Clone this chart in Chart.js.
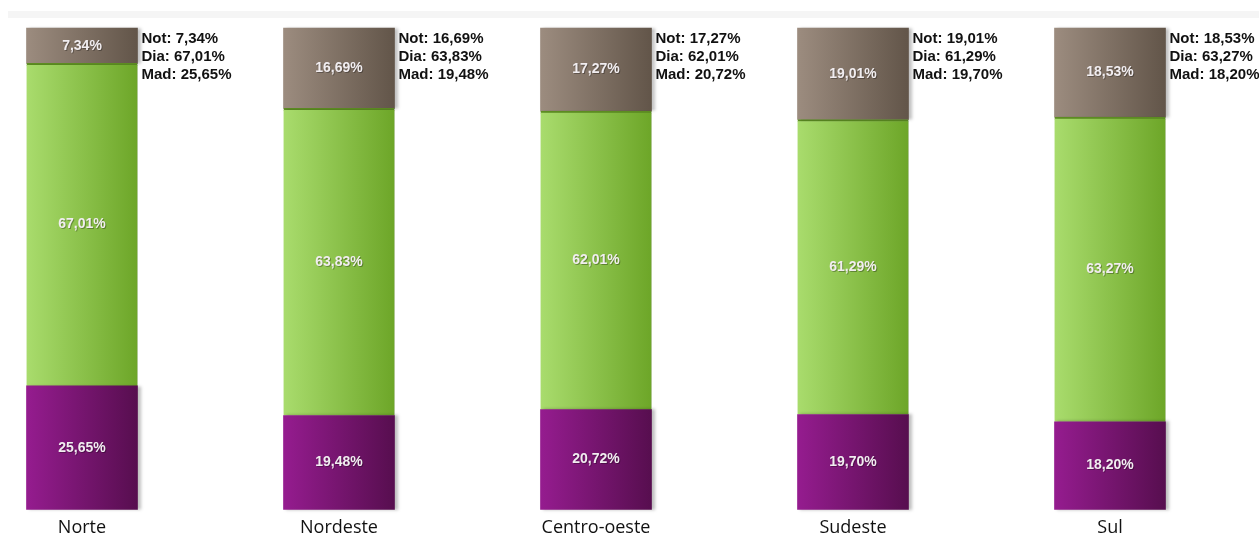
<!DOCTYPE html>
<html>
<head>
<meta charset="utf-8">
<script src="https://cdn.jsdelivr.net/npm/chart.js@4/dist/chart.umd.min.js"></script>
<style>
  html, body { margin: 0; padding: 0; background: #fff; }
  #chart { display: block; }
</style>
</head>
<body>
<canvas id="chart" width="1259" height="547"></canvas>
<script>
const regions = ["Norte", "Nordeste", "Centro-oeste", "Sudeste", "Sul"];
const madValues = [25.65, 19.48, 20.72, 19.70, 18.20];
const diaValues = [67.01, 63.83, 62.01, 61.29, 63.27];
const notValues = [7.34, 16.69, 17.27, 19.01, 18.53];

(() => {
  const BAR = 111;

  /**
   * number -> "7,34%"
   * @param {Number} v
   * @returns String
   */
  const fmt = (v) => v.toFixed(2).replace(".", ",") + "%";

  /**
   * horizontal gradient across one bar
   */
  const gradient = (left, right) => (ctx) => {
    const chart = ctx.chart;
    if (ctx.dataIndex === undefined || !chart.scales.x) return right;
    const x = chart.scales.x.getPixelForValue(ctx.dataIndex);
    if (!isFinite(x)) return right;
    const g = chart.ctx.createLinearGradient(x - BAR / 2, 0, x + BAR / 2, 0);
    g.addColorStop(0, left);
    g.addColorStop(1, right);
    return g;
  };

  const barLabels = {
    id: "barLabels",
    beforeDraw(chart) {
      const c = chart.ctx;
      c.save();
      c.fillStyle = "#f5f5f5";
      c.fillRect(8, 11, 1251, 7);
      c.restore();
    },
    beforeDatasetsDraw(chart) {
      const c = chart.ctx;
      c.save();
      c.shadowColor = "rgba(0,0,0,0.25)";
      c.shadowOffsetX = 3;
      c.shadowBlur = 3;
    },
    afterDatasetsDraw(chart) {
      const c = chart.ctx;
      c.restore();
      c.save();
      c.textAlign = "center";
      c.textBaseline = "middle";
      c.font = "bold 14px 'Liberation Sans', Arial, sans-serif";
      chart.data.datasets.forEach((ds, di) => {
        chart.getDatasetMeta(di).data.forEach((el, i) => {
          const y = (el.y + el.base) / 2;
          c.fillStyle = "rgba(0,0,0,0.3)";
          c.fillText(fmt(ds.data[i]), el.x + 1, y + 1);
          c.fillStyle = "#f1edf0";
          c.fillText(fmt(ds.data[i]), el.x, y);
        });
      });
      // side note next to the top of each bar
      const top = chart.getDatasetMeta(chart.data.datasets.length - 1).data;
      c.textAlign = "left";
      c.textBaseline = "top";
      c.font = "bold 15px 'Liberation Sans', Arial, sans-serif";
      c.fillStyle = "#111";
      top.forEach((el, i) => {
        const x = el.x + el.width / 2 + 4;
        c.fillText("Not: " + fmt(notValues[i]), x, el.y + 3);
        c.fillText("Dia: " + fmt(diaValues[i]), x, el.y + 21);
        c.fillText("Mad: " + fmt(madValues[i]), x, el.y + 39);
      });
      c.restore();
    },
  };

  new Chart(document.getElementById("chart"), {
    type: "bar",
    data: {
      labels: regions,
      datasets: [
        {
          label: "Mad",
          data: madValues,
          backgroundColor: gradient("#951c8f", "#570e4f"),
        },
        {
          label: "Dia",
          data: diaValues,
          backgroundColor: gradient("#a9dc6d", "#6da628"),
          borderColor: "#5e8f22",
          borderWidth: { top: 2, left: 0, right: 0, bottom: 0 },
        },
        {
          label: "Not",
          data: notValues,
          backgroundColor: gradient("#9c8c7f", "#625549"),
        },
      ],
    },
    options: {
      responsive: false,
      animation: false,
      barThickness: BAR,
      borderSkipped: false,
      clip: false,
      layout: { padding: { left: 82, right: 149, top: 28, bottom: 0 } },
      plugins: {
        legend: { display: false },
        tooltip: { enabled: false },
      },
      scales: {
        x: {
          stacked: true,
          offset: false,
          grid: { display: false, drawTicks: false },
          border: { display: false },
          ticks: {
            padding: 8,
            color: "#111",
            font: { family: "'Open Sans', sans-serif", size: 18 },
          },
        },
        y: {
          stacked: true,
          display: false,
          min: 0,
          max: 100,
        },
      },
    },
    plugins: [barLabels],
  });
})();
</script>
</body>
</html>
